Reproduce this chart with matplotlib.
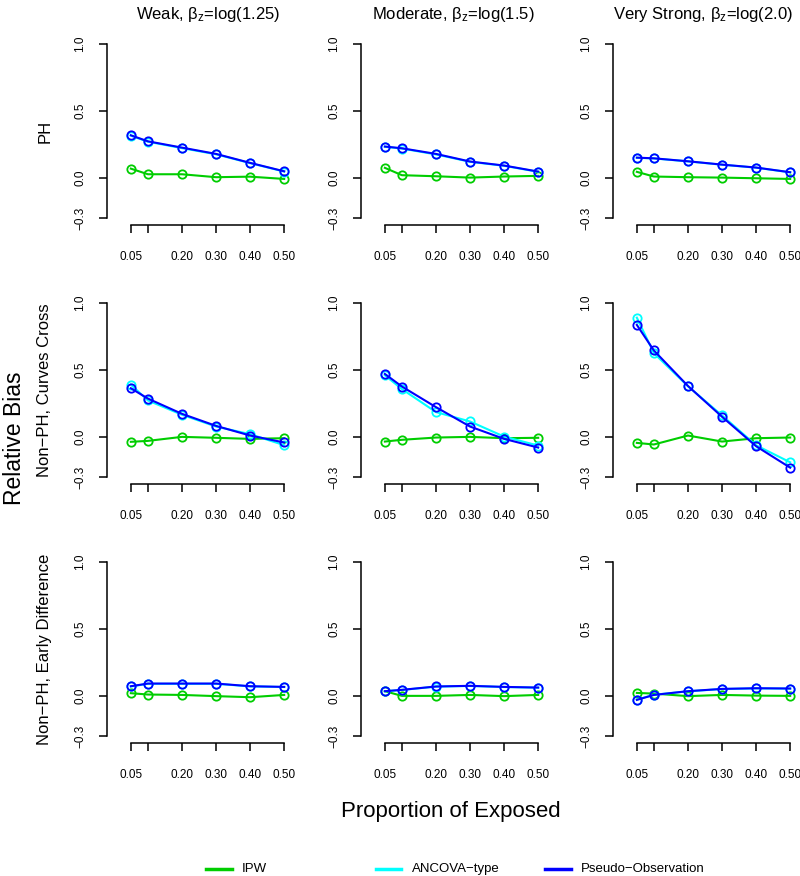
import numpy as np
import matplotlib.pyplot as plt
from matplotlib.lines import Line2D

plt.rcParams['font.family'] = ['Liberation Sans', 'DejaVu Sans']
plt.rcParams['mathtext.fontset'] = 'custom'
plt.rcParams['mathtext.rm'] = 'Liberation Sans'

# Data
prop_exposed = [0.05, 0.10, 0.20, 0.30, 0.40, 0.50]
x_tick_labels = ['0.05', '', '0.20', '0.30', '0.40', '0.50']
col_titles = [r'Weak, $\mathregular{\beta_z}$=log(1.25)',
              r'Moderate, $\mathregular{\beta_z}$=log(1.5)',
              r'Very Strong, $\mathregular{\beta_z}$=log(2.0)']
row_titles = ['PH', 'Non\u2212PH, Curves Cross', 'Non\u2212PH, Early Difference']
methods = ['IPW', 'ANCOVA\u2212type', 'Pseudo\u2212Observation']
colors = ['#00CD00', '#00FFFF', '#0000FF']

# bias[row][col] = (IPW, ANCOVA, Pseudo)
ipw_ph = [[0.069, 0.027, 0.027, 0.005, 0.009, -0.008],
          [0.075, 0.020, 0.012, 0.002, 0.010, 0.015],
          [0.045, 0.010, 0.005, 0.002, -0.003, -0.008]]
ancova_ph = [[0.315, 0.270, 0.222, 0.176, 0.110, 0.047],
             [0.232, 0.219, 0.175, 0.120, 0.090, 0.045],
             [0.150, 0.145, 0.123, 0.098, 0.076, 0.041]]
pseudo_ph = [[0.318, 0.273, 0.226, 0.179, 0.112, 0.049],
             [0.234, 0.221, 0.179, 0.122, 0.092, 0.047],
             [0.151, 0.146, 0.124, 0.099, 0.077, 0.042]]

ipw_cross = [[-0.037, -0.030, 0.000, -0.007, -0.015, -0.010],
             [-0.035, -0.022, -0.005, 0.000, -0.010, -0.007],
             [-0.045, -0.057, 0.010, -0.035, -0.010, -0.005]]
ancova_cross = [[0.390, 0.272, 0.165, 0.077, 0.020, -0.062],
                [0.460, 0.357, 0.185, 0.115, 0.002, -0.065],
                [0.890, 0.625, 0.378, 0.160, -0.063, -0.190]]
pseudo_cross = [[0.363, 0.286, 0.172, 0.082, 0.010, -0.042],
                [0.470, 0.376, 0.222, 0.077, -0.015, -0.080],
                [0.836, 0.645, 0.380, 0.150, -0.070, -0.230]]

ipw_early = [[0.020, 0.010, 0.007, -0.002, -0.010, 0.007],
             [0.035, 0.000, 0.000, 0.007, -0.002, 0.007],
             [0.022, 0.017, -0.002, 0.007, 0.002, 0.000]]
ancova_early = [[0.070, 0.090, 0.090, 0.090, 0.071, 0.066],
                [0.034, 0.044, 0.069, 0.074, 0.066, 0.061],
                [-0.028, 0.008, 0.034, 0.051, 0.056, 0.054]]
pseudo_early = [[0.072, 0.092, 0.092, 0.092, 0.072, 0.067],
                [0.035, 0.045, 0.070, 0.075, 0.067, 0.062],
                [-0.030, 0.007, 0.035, 0.052, 0.057, 0.055]]

rows = [(ipw_ph, ancova_ph, pseudo_ph),
        (ipw_cross, ancova_cross, pseudo_cross),
        (ipw_early, ancova_early, pseudo_early)]

W, H = 800, 876
fig = plt.figure(figsize=(W / 100, H / 100), dpi=100)

lefts = [107, 361, 613]
tops = [37, 296, 555]
aw, ah = 184, 188
title_shift = [9, 0, -2]

for r in range(3):
    for c in range(3):
        ax = fig.add_axes([lefts[c] / W, 1 - (tops[r] + ah) / H, aw / W, ah / H])
        for m in range(3):
            ax.plot(prop_exposed, rows[r][m][c], color=colors[m], lw=1.5,
                    marker='o', ms=6, mfc='none', mew=1.3)
        ax.set_xlim(-0.02, 0.52)
        ax.set_ylim(-0.352, 1.052)
        ax.set_xticks(prop_exposed)
        ax.set_xticklabels(x_tick_labels, fontsize=8.5)
        ax.set_yticks([-0.3, 0.0, 0.5, 1.0])
        ax.set_yticklabels(['\u22120.3', '0.0', '0.5', '1.0'], fontsize=8.5,
                           rotation=90, va='center')
        for s in ['top', 'right']:
            ax.spines[s].set_visible(False)
        ax.spines['left'].set_bounds(-0.3, 1.0)
        ax.spines['bottom'].set_bounds(0.05, 0.5)
        ax.spines['left'].set_linewidth(1.1)
        ax.spines['bottom'].set_linewidth(1.1)
        ax.tick_params(axis='x', length=6, width=1.1, pad=13)
        ax.tick_params(axis='y', length=6, width=1.1, pad=9)
        ax.patch.set_visible(False)
        if r == 0:
            fig.text((lefts[c] + aw / 2 + title_shift[c]) / W, 1 - 15 / H,
                     col_titles[c], ha='center', va='center', fontsize=12)
        if c == 0:
            fig.text(45 / W, 1 - (tops[r] + ah / 2) / H, row_titles[r],
                     rotation=90, ha='center', va='center', fontsize=12)

fig.text(15 / W, 1 - 438 / H, 'Relative Bias', rotation=90,
         ha='center', va='center', fontsize=16.5)
fig.text(451 / W, 1 - 812 / H, 'Proportion of Exposed',
         ha='center', va='center', fontsize=16)

# legend along the bottom
leg_y = 1 - 869 / H
for i, (name, col) in enumerate(zip(methods, colors)):
    x0 = 206 + i * 169.5
    fig.add_artist(Line2D([x0 / W, (x0 + 26) / W], [leg_y, leg_y],
                          color=col, lw=2.5, transform=fig.transFigure))
    fig.text((x0 + 36) / W, leg_y, name, ha='left', va='center', fontsize=9.5)

fig.savefig('out.png', dpi=100)
